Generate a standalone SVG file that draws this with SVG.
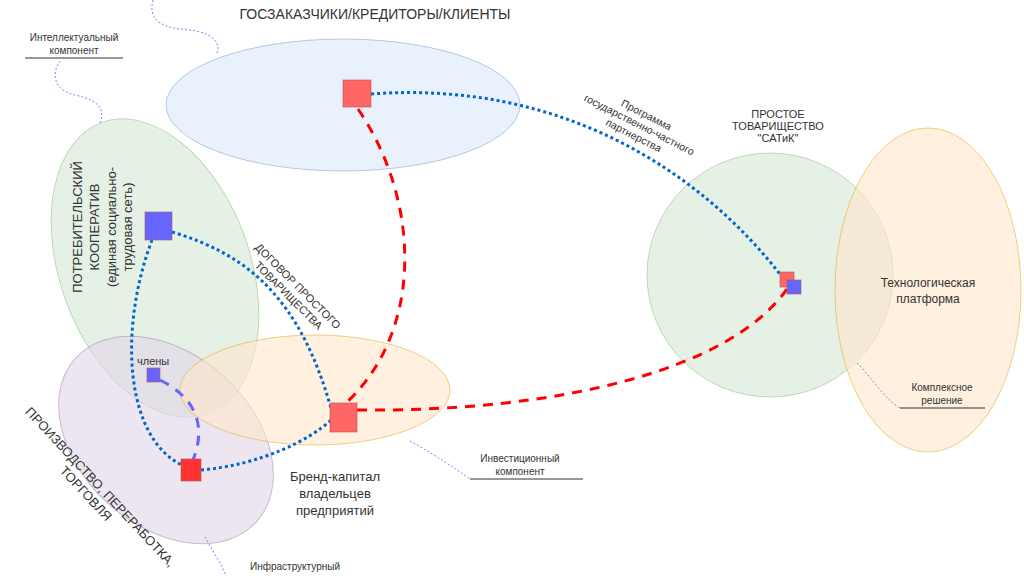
<svg xmlns="http://www.w3.org/2000/svg" width="1024" height="576" viewBox="0 0 1024 576">
<style>
text{font-family:"Liberation Sans",Arial,sans-serif;fill:#333}
.dot{fill:none;stroke:#0066cc;stroke-width:3;stroke-dasharray:3 3}
.dash{fill:none;stroke:#ff0000;stroke-width:3;stroke-dasharray:10 8}
.dashb{fill:none;stroke:#6666ff;stroke-width:3;stroke-dasharray:10 8}
.thin{fill:none;stroke:#8080ff;stroke-width:1;stroke-dasharray:2 2}
.ul{stroke:#333;stroke-width:1}
.blue{fill:#dae8fc;fill-opacity:.6;stroke:#6c8ebf;stroke-opacity:.45}
.green{fill:#d5e8d4;fill-opacity:.6;stroke:#82b366;stroke-opacity:.45}
.purple{fill:#e1d5e7;fill-opacity:.6;stroke:#9673a6;stroke-opacity:.45}
.orange{fill:#ffe6cc;fill-opacity:.6;stroke:#d79b00;stroke-opacity:.45}
.rs{fill:#ff6666;stroke:#b85450;stroke-opacity:.6}
.bs{fill:#6666ff;stroke:#b85450;stroke-opacity:.6}
</style>
<rect width="1024" height="576" fill="#ffffff"/>
<g id="areas">
<ellipse id="clients" class="blue" cx="343" cy="105" rx="177" ry="66"/>
<ellipse id="coop" class="green" cx="155" cy="268" rx="95" ry="155" transform="rotate(-20 155 268)"/>
<ellipse id="production" class="purple" cx="166" cy="440" rx="122" ry="86" transform="rotate(42 166 440)"/>
<ellipse id="brand" class="orange" cx="315" cy="390" rx="135" ry="55"/>
<ellipse id="satik" class="green" cx="770" cy="275" rx="123" ry="122"/>
<ellipse id="platform" class="orange" cx="928" cy="290" rx="93" ry="162"/>
</g>
<g id="connectors">
<path class="dot" d="M371,94 C560,80 700,170 783,278"/>
<path class="dash" d="M358,109 C420,200 425,330 345,404"/>
<path class="dot" d="M172,232 C250,255 300,300 331,408"/>
<path class="dot" d="M152,240 C118,330 125,440 184,466"/>
<path class="dashb" d="M160,380 C200,400 205,430 193,460"/>
<path class="dot" d="M201,470 C260,465 310,440 331,420"/>
<path class="dash" d="M357,410 C560,412 730,370 787,289"/>
<path class="thin" d="M153,0 C148,20 160,28 190,30 C215,33 222,45 216,55"/>
<path class="thin" d="M60,61 C52,72 52,90 75,95 C103,101 104,112 100,123"/>
<path class="thin" d="M410,441 C430,452 455,468 470,479"/>
<path class="thin" d="M857,363 C870,375 885,400 900,408"/>
<path class="thin" d="M205,537 C212,550 222,565 226,576"/>
</g>
<g id="n-top"><rect class="rs" x="343" y="80" width="28" height="27"/></g>
<g id="n-coop"><rect class="bs" x="145" y="212" width="27" height="28"/></g>
<g id="n-center"><rect class="rs" x="330" y="403" width="27" height="29"/></g>
<g id="n-members"><rect class="bs" x="147" y="368" width="13" height="14"/></g>
<g id="n-bottom"><rect x="181" y="459" width="20" height="22" fill="#ff3333" stroke="#b85450" stroke-opacity=".6"/></g>
<g id="n-satik"><rect class="rs" x="780" y="272" width="14" height="15"/><rect class="bs" x="787" y="280" width="14" height="14"/></g>
<g id="labels">
<text x="375" y="19" font-size="14" text-anchor="middle">ГОСЗАКАЗЧИКИ/КРЕДИТОРЫ/КЛИЕНТЫ</text>
<text x="74" y="41" font-size="10" text-anchor="middle">Интеллектуальный</text>
<text x="74" y="54" font-size="10" text-anchor="middle">компонент</text>
<line class="ul" x1="25" y1="58" x2="123" y2="58"/>
<g transform="translate(100 227) rotate(-90)" font-size="13" text-anchor="middle">
<text x="0" y="-18">ПОТРЕБИТЕЛЬСКИЙ</text>
<text x="0" y="-1">КООПЕРАТИВ</text>
<text x="0" y="16">(единая социально-</text>
<text x="0" y="32">трудовая сеть)</text>
</g>
<g transform="translate(293 291) rotate(45)" font-size="11" text-anchor="middle">
<text x="0" y="-3">ДОГОВОР ПРОСТОГО</text>
<text x="0" y="10">ТОВАРИЩЕСТВА</text>
</g>
<g transform="translate(638 127) rotate(27)" font-size="10.5" text-anchor="middle">
<text x="2" y="-11">Программа</text>
<text x="0" y="1">государственно-частного</text>
<text x="0" y="13">партнерства</text>
</g>
<g font-size="11" text-anchor="middle">
<text x="778" y="118">ПРОСТОЕ</text>
<text x="778" y="130">ТОВАРИЩЕСТВО</text>
<text x="778" y="142">"САТиК"</text>
</g>
<text x="928" y="287" font-size="12" text-anchor="middle">Технологическая</text>
<text x="928" y="303" font-size="12" text-anchor="middle">платформа</text>
<text x="942" y="391" font-size="10" text-anchor="middle">Комплексное</text>
<text x="942" y="404" font-size="10" text-anchor="middle">решение</text>
<line class="ul" x1="900" y1="408" x2="985" y2="408"/>
<text x="520" y="462" font-size="10" text-anchor="middle">Инвестиционный</text>
<text x="520" y="475" font-size="10" text-anchor="middle">компонент</text>
<line class="ul" x1="470" y1="479" x2="583" y2="479"/>
<text x="335" y="481" font-size="13" text-anchor="middle">Бренд-капитал</text>
<text x="335" y="498" font-size="13" text-anchor="middle">владельцев</text>
<text x="335" y="515" font-size="13" text-anchor="middle">предприятий</text>
<text x="137" y="365" font-size="11">члены</text>
<text x="250" y="570" font-size="10">Инфраструктурный</text>
<g transform="translate(97 490) rotate(47)" font-size="13" text-anchor="middle">
<text x="0" y="0">ПРОИЗВОДСТВО, ПЕРЕРАБОТКА,</text>
<text x="-5" y="15">ТОРГОВЛЯ</text>
</g>
</g>
</svg>
